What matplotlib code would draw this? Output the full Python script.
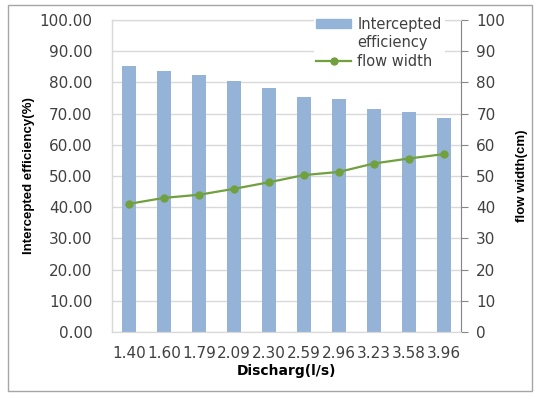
import matplotlib
matplotlib.use("Agg")
import matplotlib.pyplot as plt
from matplotlib.patches import Patch, Rectangle
from matplotlib.lines import Line2D

# data
discharge = ["1.40", "1.60", "1.79", "2.09", "2.30", "2.59", "2.96", "3.23", "3.58", "3.96"]
efficiency = [85.3, 83.7, 82.3, 80.6, 78.3, 75.4, 74.7, 71.5, 70.4, 68.6]
flow_width = [41.1, 43.0, 44.0, 45.9, 48.0, 50.3, 51.3, 54.0, 55.6, 57.0]

bar_col = "#95B3D7"
line_col = "#71A03E"
txt_col = "#404040"
grid_col = "#D9D9D9"
axis_col = "#868686"

W, H = 541, 399
fig = plt.figure(figsize=(W / 100, H / 100), dpi=100)

# outer chart border
fig.patches.append(Rectangle((8 / W, 8 / H), 524 / W, 386 / H, transform=fig.transFigure,
                             fill=False, edgecolor="#A6A6A6", linewidth=1))

ax = fig.add_axes([112 / W, 1 - 332 / H, 349 / W, 312 / H])
ax2 = ax.twinx()

x = range(len(discharge))
ax.bar(x, efficiency, width=0.4, color=bar_col, zorder=2)
ax2.plot(x, flow_width, color=line_col, linewidth=1.6, marker="o", markersize=5, zorder=3)

ax.set_xlim(-0.5, len(discharge) - 0.5)
ax.set_ylim(0, 100)
ax2.set_ylim(0, 100)
ax.set_yticks(range(0, 101, 10))
ax.set_yticklabels(["%.2f" % v for v in range(0, 101, 10)])
ax2.set_yticks(range(0, 101, 10))
ax.set_xticks(list(x))
ax.set_xticklabels(discharge)

ax.yaxis.grid(True, color=grid_col, linewidth=1, zorder=0)
ax.set_axisbelow(True)

for a in (ax, ax2):
    for s in a.spines.values():
        s.set_color(grid_col)
ax.spines["left"].set_color(axis_col)
ax2.spines["right"].set_color(axis_col)

ax.tick_params(axis="y", length=0, pad=14, labelsize=11, labelcolor=txt_col)
ax.tick_params(axis="x", length=0, pad=10, labelsize=11, labelcolor=txt_col)
ax2.tick_params(axis="y", length=5, color=axis_col, pad=6, labelsize=11, labelcolor=txt_col)

lab_font = ["Liberation Sans", "DejaVu Sans"]
ax.set_ylabel("Intercepted efficiency(%)", fontsize=9.5, fontweight="bold", family=lab_font, labelpad=3)
ax2.set_ylabel("flow width(cm)", fontsize=9.5, fontweight="bold", family=lab_font, labelpad=8)
ax.set_xlabel("Discharg(l/s)", fontsize=10, fontweight="bold", labelpad=2)

handles = [Patch(color=bar_col), Patch(color="none"),
           Line2D([], [], color=line_col, linewidth=1.6, marker="o", markersize=5)]
labels = ["Intercepted", "efficiency", "flow width"]
leg = ax2.legend(handles, labels, loc="upper right", bbox_to_anchor=(0.953, 1.02),
                 frameon=True, fontsize=10.5, handlelength=2.4, handleheight=0.6,
                 labelspacing=0.25, borderpad=0.2, handletextpad=0.4, borderaxespad=0)
leg.get_frame().set_facecolor("white")
leg.get_frame().set_edgecolor("none")
leg.get_frame().set_alpha(1)
for t in leg.get_texts():
    t.set_color(txt_col)

fig.savefig("out.png", dpi=100)
